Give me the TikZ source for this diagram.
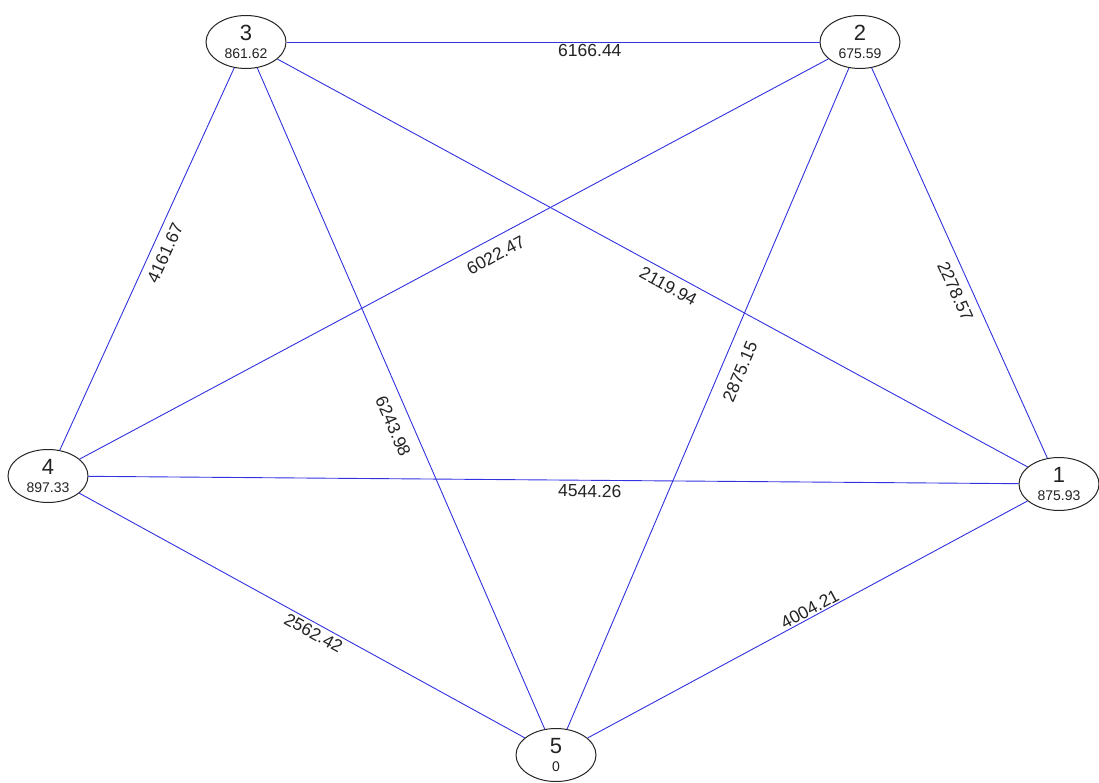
\documentclass[tikz,border=0pt]{standalone}
\usepackage{fontspec}
\setmainfont{Liberation Sans}
\usetikzlibrary{shapes.geometric}
\definecolor{edgeblue}{RGB}{50,50,225}
\definecolor{txtgray}{RGB}{35,35,35}
\newcommand{\vnum}[1]{{\fontsize{22}{22}\selectfont #1}}
\newcommand{\vval}[1]{{\fontsize{14}{14}\selectfont #1}}
\begin{document}
\begin{tikzpicture}[x=1pt,y=-1pt,
 vert/.style={ellipse, draw=black!85, line width=1pt, fill=white, minimum width=80pt, minimum height=53pt, inner sep=0pt, align=center, text=txtgray},
 edgeline/.style={draw=edgeblue, line width=0.9pt},
 wlab/.style={font=\fontsize{17.5}{17.5}\selectfont, text=txtgray, sloped, inner sep=0pt}]
\useasboundingbox[fill=white] (0,0) rectangle (1099,783);
\node[vert] (n3) at (246,42) {\vnum{3}\\[6pt]\vval{861.62}};
\node[vert] (n2) at (860,42) {\vnum{2}\\[6pt]\vval{675.59}};
\node[vert] (n4) at (48,476) {\vnum{4}\\[6pt]\vval{897.33}};
\node[vert] (n1) at (1059,484) {\vnum{1}\\[6pt]\vval{875.93}};
\node[vert] (n5) at (556,755) {\vnum{5}\\[6pt]\vval{0}};
% edges
\draw[edgeline] (n3) -- (n2);
\draw[edgeline] (n3) -- (n4);
\draw[edgeline] (n3) -- (n5);
\draw[edgeline] (n3) -- (n1);
\draw[edgeline] (n2) -- (n4);
\draw[edgeline] (n2) -- (n5);
\draw[edgeline] (n2) -- (n1);
\draw[edgeline] (n4) -- (n1);
\draw[edgeline] (n4) -- (n5);
\draw[edgeline] (n5) -- (n1);
% labels
\path (n3.center) -- (n2.center) node[wlab, below=2pt, pos=0.56] (l32) {6166.44};
\path (n3.center) -- (n4.center) node[wlab, below=7.6pt, pos=0.473] (l34) {4161.67};
\path (n3.center) -- (n5.center) node[wlab, below=12pt, pos=0.529] (l35) {6243.98};
\path (n3.center) -- (n1.center) node[wlab, below=6.5pt, pos=0.527] (l31) {2119.94};
\path (n2.center) -- (n4.center) node[wlab, below=10pt, pos=0.458] (l24) {6022.47};
\path (n2.center) -- (n5.center) node[wlab, below=12.5pt, pos=0.452] (l25) {2875.15};
\path (n2.center) -- (n1.center) node[wlab, below=9pt, pos=0.55] (l21) {2278.57};
\path (n4.center) -- (n1.center) node[wlab, below=4.4pt, pos=0.536] (l41) {4544.26};
\path (n4.center) -- (n5.center) node[wlab, below=3.5pt, pos=0.532] (l45) {2562.42};
\path (n5.center) -- (n1.center) node[wlab, above=1.5pt, pos=0.512] (l51) {4004.21};
\end{tikzpicture}
\end{document}
